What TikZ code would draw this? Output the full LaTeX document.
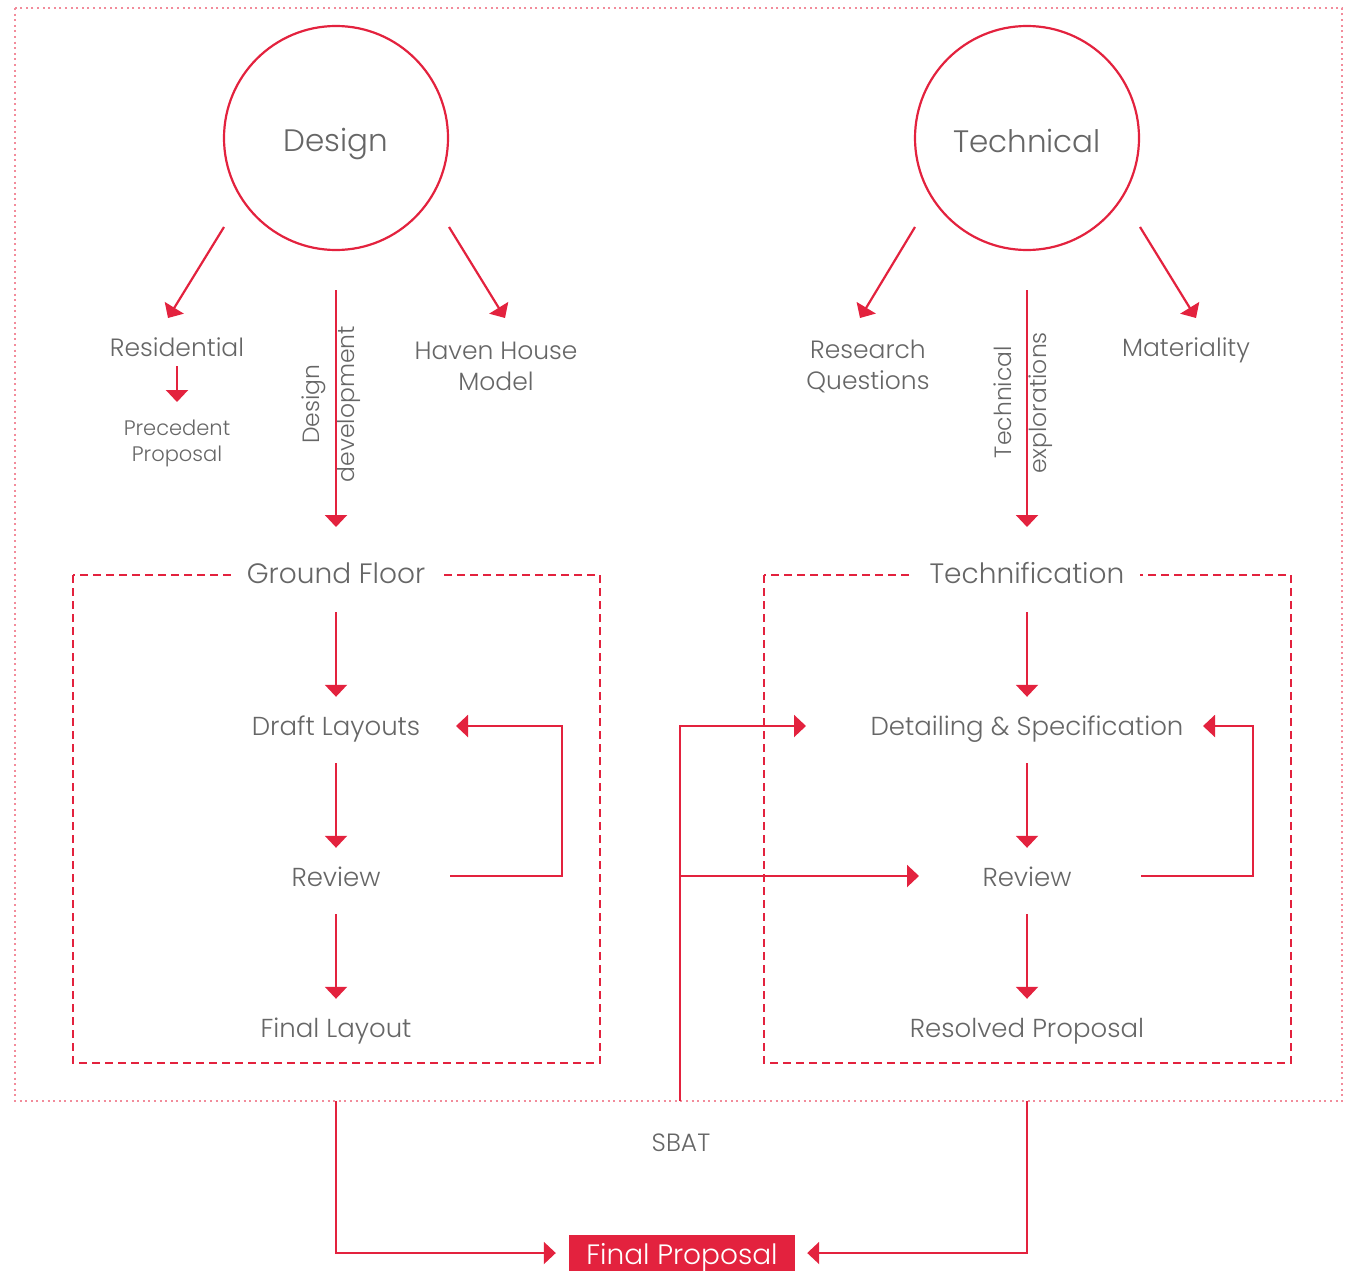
\documentclass[tikz,border=0pt]{standalone}
\usepackage{fontspec}
\setmainfont{Poppins}[UprightFont={* Light}]
\usetikzlibrary{arrows.meta}
\definecolor{rd}{HTML}{E3223E}
\definecolor{pk}{HTML}{F28C9B}
\definecolor{tx}{HTML}{666666}
\tikzset{
  arr/.style={draw=rd, line width=2.2pt, -{Triangle[length=12pt,width=22pt]}},
  lbl/.style={text=tx, font=\fontsize{25}{31}\selectfont, align=center, inner sep=0pt},
  lbl1/.style={text=tx, font=\fontsize{25}{31}\selectfont, inner sep=0pt, text height=18pt, text depth=5pt},
  big/.style={text=tx, font=\fontsize{31}{36}\selectfont, inner sep=0pt},
  small/.style={text=tx, font=\fontsize{21}{26}\selectfont, align=center, inner sep=0pt},
  proc/.style={text=tx, font=\fontsize{26}{30}\selectfont, inner sep=0pt, minimum height=64pt, text height=17pt, text depth=5pt},
  ttl/.style={text=tx, font=\fontsize{28}{32}\selectfont, fill=white, inner xsep=16pt, inner ysep=4pt, text height=20pt, text depth=5pt},
  rot/.style={text=tx, font=\fontsize{23.5}{30}\selectfont, rotate=90, inner sep=0pt},
  circ/.style={circle, draw=rd, line width=2.2pt, minimum size=224pt},
  dbox/.style={draw=rd, line width=2.2pt, dash pattern=on 8pt off 5pt},
}
\begin{document}
\begin{tikzpicture}[x=1pt,y=-1pt]
\useasboundingbox (0,0) rectangle (1348,1271);
% outer dotted border
\draw[pk, line width=2.2pt, dash pattern=on 2pt off 3.6pt] (15,8) rectangle (1342,1101);

% circles
\node[circ] (design) at (336,138) {};
\node[big] (designt) at (336,144) {Design};
\node[circ] (tech) at (1027,138) {};
\node[big] (techt) at (1027,141) {Technical};

% left upper labels
\node[lbl1] (res) at (177,350) {Residential};
\node[small] (prec) at (177,443) {Precedent\\Proposal};
\node[lbl] (haven) at (496,366) {Haven House\\Model};
\node[rot] (dd1) at (314,404) {Design};
\node[rot] (dd2) at (349,404) {development};

% right upper labels
\node[lbl] (rq) at (868,366) {Research\\Questions};
\node[lbl1] (mat) at (1186,350) {Materiality};
\node[rot] (te1) at (1003,402) {Technical};
\node[rot] (te2) at (1041,403) {explorations};

% dashed boxes
\draw[dbox] (73,575) rectangle (600,1063);
\draw[dbox] (764,575) rectangle (1291,1063);
\node[ttl] (gf) at (336,576) {Ground Floor};
\node[ttl] (tf) at (1027,576) {Technification};

% left process
\node[proc] (dl) at (336,729) {Draft Layouts};
\node[proc] (rv1) at (336,880) {Review};
\node[proc] (fl) at (336,1031) {Final Layout};
% right process
\node[proc] (dsp) at (1027,729) {Detailing \& Specification};
\node[proc] (rv2) at (1027,880) {Review};
\node[proc] (rp) at (1027,1031) {Resolved Proposal};

% bottom
\node[text=tx, font=\fontsize{25}{28}\selectfont, inner sep=0pt] (sbat) at (681,1143) {SBAT};
\node[fill=rd, text=white, font=\fontsize{28}{32}\selectfont, minimum width=226pt, minimum height=36pt, inner sep=0pt, text height=22pt, text depth=0pt] (fp) at (682,1253) {Final Proposal};

% arrows from circles
\draw[arr] ([xshift=-112pt,yshift=-89pt]design.center) -- ([xshift=-9pt,yshift=32pt]res.center);
\draw[arr] ([xshift=113pt,yshift=-89pt]design.center) -- ([xshift=9pt,yshift=48pt]haven.center);
\draw[arr] ([yshift=-152pt]design.center) -- ([yshift=49pt]gf.center);
\draw[arr] ([yshift=-16pt]res.center) -- ([yshift=41pt]prec.center);

\draw[arr] ([xshift=-112pt,yshift=-89pt]tech.center) -- ([xshift=-8pt,yshift=48pt]rq.center);
\draw[arr] ([xshift=113pt,yshift=-89pt]tech.center) -- ([xshift=10pt,yshift=32pt]mat.center);
\draw[arr] ([yshift=-152pt]tech.center) -- ([yshift=49pt]tf.center);

% left process arrows
\draw[arr] ([yshift=-36pt]gf.center) -- (dl.north);
\draw[arr, shorten <=2pt] (dl) -- (rv1);
\draw[arr, shorten <=2pt] (rv1) -- (fl);
\draw[arr] ([xshift=114pt,yshift=4pt]rv1.center) -- ([xshift=226pt,yshift=4pt]rv1.center) |- ([xshift=120pt,yshift=3pt]dl.center);

% right process arrows
\draw[arr] ([yshift=-36pt]tf.center) -- (dsp.north);
\draw[arr, shorten <=2pt] (dsp) -- (rv2);
\draw[arr, shorten <=2pt] (rv2) -- (rp);
\draw[arr] ([xshift=114pt,yshift=4pt]rv2.center) -- ([xshift=226pt,yshift=4pt]rv2.center) |- ([xshift=176pt,yshift=3pt]dsp.center);

% SBAT connectors
\coordinate (sbt) at (680,1101);
\coordinate (sbj) at (680,876);
\draw[arr] (sbt) |- ([xshift=-221pt,yshift=3pt]dsp.center);
\draw[arr] (sbj) -- ([xshift=-108pt,yshift=4pt]rv2.center);

% to final proposal
\coordinate (lb) at (336,1101);
\coordinate (rb) at (1027,1101);
\draw[arr, shorten >=13pt] (lb) |- (fp.west);
\draw[arr, shorten >=12pt] (rb) |- (fp.east);
\end{tikzpicture}
\end{document}
